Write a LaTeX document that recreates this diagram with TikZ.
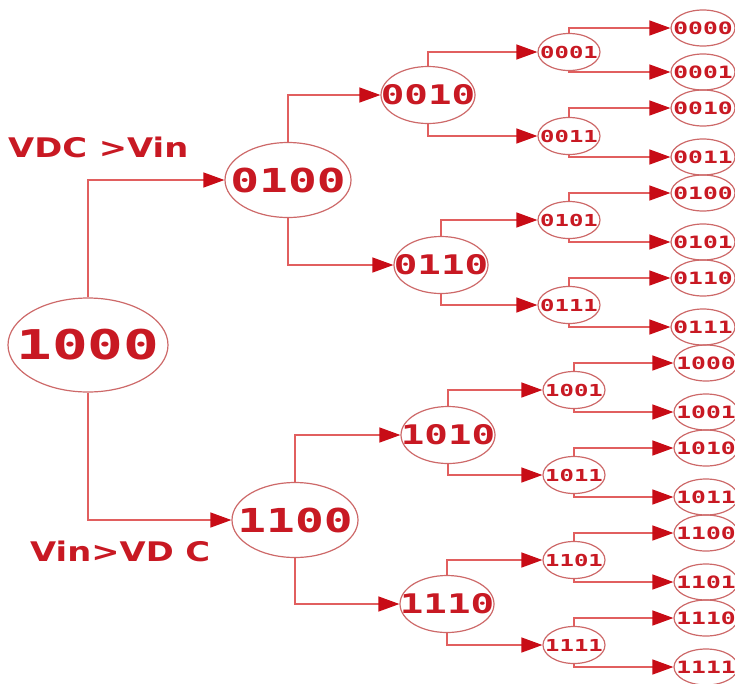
\documentclass[tikz,border=0pt]{standalone}
\usepackage{fontspec}
\usepackage{tikz}
\usetikzlibrary{arrows.meta,shapes.geometric}
\newfontfamily\bitfont{DejaVu Sans Mono}[FakeStretch=1.45]
\newfontfamily\cmpfont{DejaVu Sans}[FakeStretch=1.25]
\definecolor{lineRed}{RGB}{225,95,95}
\definecolor{rimRed}{RGB}{205,105,105}
\definecolor{tipRed}{RGB}{200,12,22}
\definecolor{textRed}{RGB}{200,25,35}
\newcommand{\bitlabel}[1]{\makebox[0pt]{#1}}

\begin{document}
\begin{tikzpicture}[
    x=1pt, y=-1pt,
    bit/.style={ellipse, draw=rimRed, line width=1.2pt, text=textRed,
                inner sep=0pt},
    lvlA/.style={bit, minimum width=160pt, minimum height=94pt,
                 font=\bitfont\bfseries\fontsize{41}{41}\selectfont},
    lvlB/.style={bit, minimum width=126pt, minimum height=75pt,
                 font=\bitfont\bfseries\fontsize{33}{33}\selectfont},
    lvlC/.style={bit, minimum width=94pt, minimum height=57pt,
                 font=\bitfont\bfseries\fontsize{27}{27}\selectfont},
    lvlD/.style={bit, minimum width=62pt, minimum height=37pt,
                 font=\bitfont\bfseries\fontsize{16.5}{16.5}\selectfont},
    leaf/.style={bit, minimum width=64pt, minimum height=36pt,
                 font=\bitfont\bfseries\fontsize{17}{17}\selectfont},
    cmp/.style={anchor=west, text=textRed, inner sep=0pt,
                font=\cmpfont\bfseries\fontsize{27}{27}\selectfont},
    arrow/.style={-{Triangle[length=21pt, width=15pt, color=tipRed]},
                  draw=lineRed, line width=1.3pt}
]
\useasboundingbox (0,0) rectangle (735,683);

% Root
\node[lvlA] (a1000) at (88, 345) {\bitlabel{1000}};

% Comparison labels
\node[cmp] (lblTop) at (8, 147) {VDC >Vin};
\node[cmp] (lblBot) at (30, 551) {Vin>VD C};

% Second level
\node[lvlB] (b0100) at (288, 180) {\bitlabel{0100}};
\node[lvlB] (b1100) at (295, 520) {\bitlabel{1100}};
\draw[arrow] (a1000.north) |- (b0100.west);
\draw[arrow] (a1000.south) |- (b1100.west);

% Third level
\node[lvlC] (c0010) at (428, 95) {\bitlabel{0010}};
\node[lvlC] (c0110) at (441, 265) {\bitlabel{0110}};
\node[lvlC] (c1010) at (448, 435) {\bitlabel{1010}};
\node[lvlC] (c1110) at (447, 604) {\bitlabel{1110}};
\draw[arrow] (b0100.north) |- (c0010.west);
\draw[arrow] (b0100.south) |- (c0110.west);
\draw[arrow] (b1100.north) |- (c1010.west);
\draw[arrow] (b1100.south) |- (c1110.west);

% Fourth level
\node[lvlD] (d0001) at (569, 52) {\bitlabel{0001}};
\node[lvlD] (d0011) at (569, 136) {\bitlabel{0011}};
\node[lvlD] (d0101) at (569, 220) {\bitlabel{0101}};
\node[lvlD] (d0111) at (569, 305) {\bitlabel{0111}};
\node[lvlD] (d1001) at (574, 390) {\bitlabel{1001}};
\node[lvlD] (d1011) at (574, 475) {\bitlabel{1011}};
\node[lvlD] (d1101) at (574, 560) {\bitlabel{1101}};
\node[lvlD] (d1111) at (574, 645) {\bitlabel{1111}};
\draw[arrow] (c0010.north) |- (d0001.west);
\draw[arrow] (c0010.south) |- (d0011.west);
\draw[arrow] (c0110.north) |- (d0101.west);
\draw[arrow] (c0110.south) |- (d0111.west);
\draw[arrow] (c1010.north) |- (d1001.west);
\draw[arrow] (c1010.south) |- (d1011.west);
\draw[arrow] (c1110.north) |- (d1101.west);
\draw[arrow] (c1110.south) |- (d1111.west);

% Final codes
\node[leaf] (e0000) at (703, 28) {\bitlabel{0000}};
\node[leaf] (e0001) at (703, 72) {\bitlabel{0001}};
\node[leaf] (e0010) at (703, 108) {\bitlabel{0010}};
\node[leaf] (e0011) at (703, 157) {\bitlabel{0011}};
\node[leaf] (e0100) at (703, 193) {\bitlabel{0100}};
\node[leaf] (e0101) at (703, 242) {\bitlabel{0101}};
\node[leaf] (e0110) at (703, 278) {\bitlabel{0110}};
\node[leaf] (e0111) at (703, 327) {\bitlabel{0111}};
\node[leaf] (e1000) at (706, 363) {\bitlabel{1000}};
\node[leaf] (e1001) at (706, 412) {\bitlabel{1001}};
\node[leaf] (e1010) at (706, 448) {\bitlabel{1010}};
\node[leaf] (e1011) at (706, 497) {\bitlabel{1011}};
\node[leaf] (e1100) at (706, 533) {\bitlabel{1100}};
\node[leaf] (e1101) at (706, 582) {\bitlabel{1101}};
\node[leaf] (e1110) at (706, 618) {\bitlabel{1110}};
\node[leaf] (e1111) at (706, 667) {\bitlabel{1111}};
\draw[arrow] (d0001.north) |- (e0000.west);
\draw[arrow] (d0001.south) |- (e0001.west);
\draw[arrow] (d0011.north) |- (e0010.west);
\draw[arrow] (d0011.south) |- (e0011.west);
\draw[arrow] (d0101.north) |- (e0100.west);
\draw[arrow] (d0101.south) |- (e0101.west);
\draw[arrow] (d0111.north) |- (e0110.west);
\draw[arrow] (d0111.south) |- (e0111.west);
\draw[arrow] (d1001.north) |- (e1000.west);
\draw[arrow] (d1001.south) |- (e1001.west);
\draw[arrow] (d1011.north) |- (e1010.west);
\draw[arrow] (d1011.south) |- (e1011.west);
\draw[arrow] (d1101.north) |- (e1100.west);
\draw[arrow] (d1101.south) |- (e1101.west);
\draw[arrow] (d1111.north) |- (e1110.west);
\draw[arrow] (d1111.south) |- (e1111.west);

\end{tikzpicture}
\end{document}
